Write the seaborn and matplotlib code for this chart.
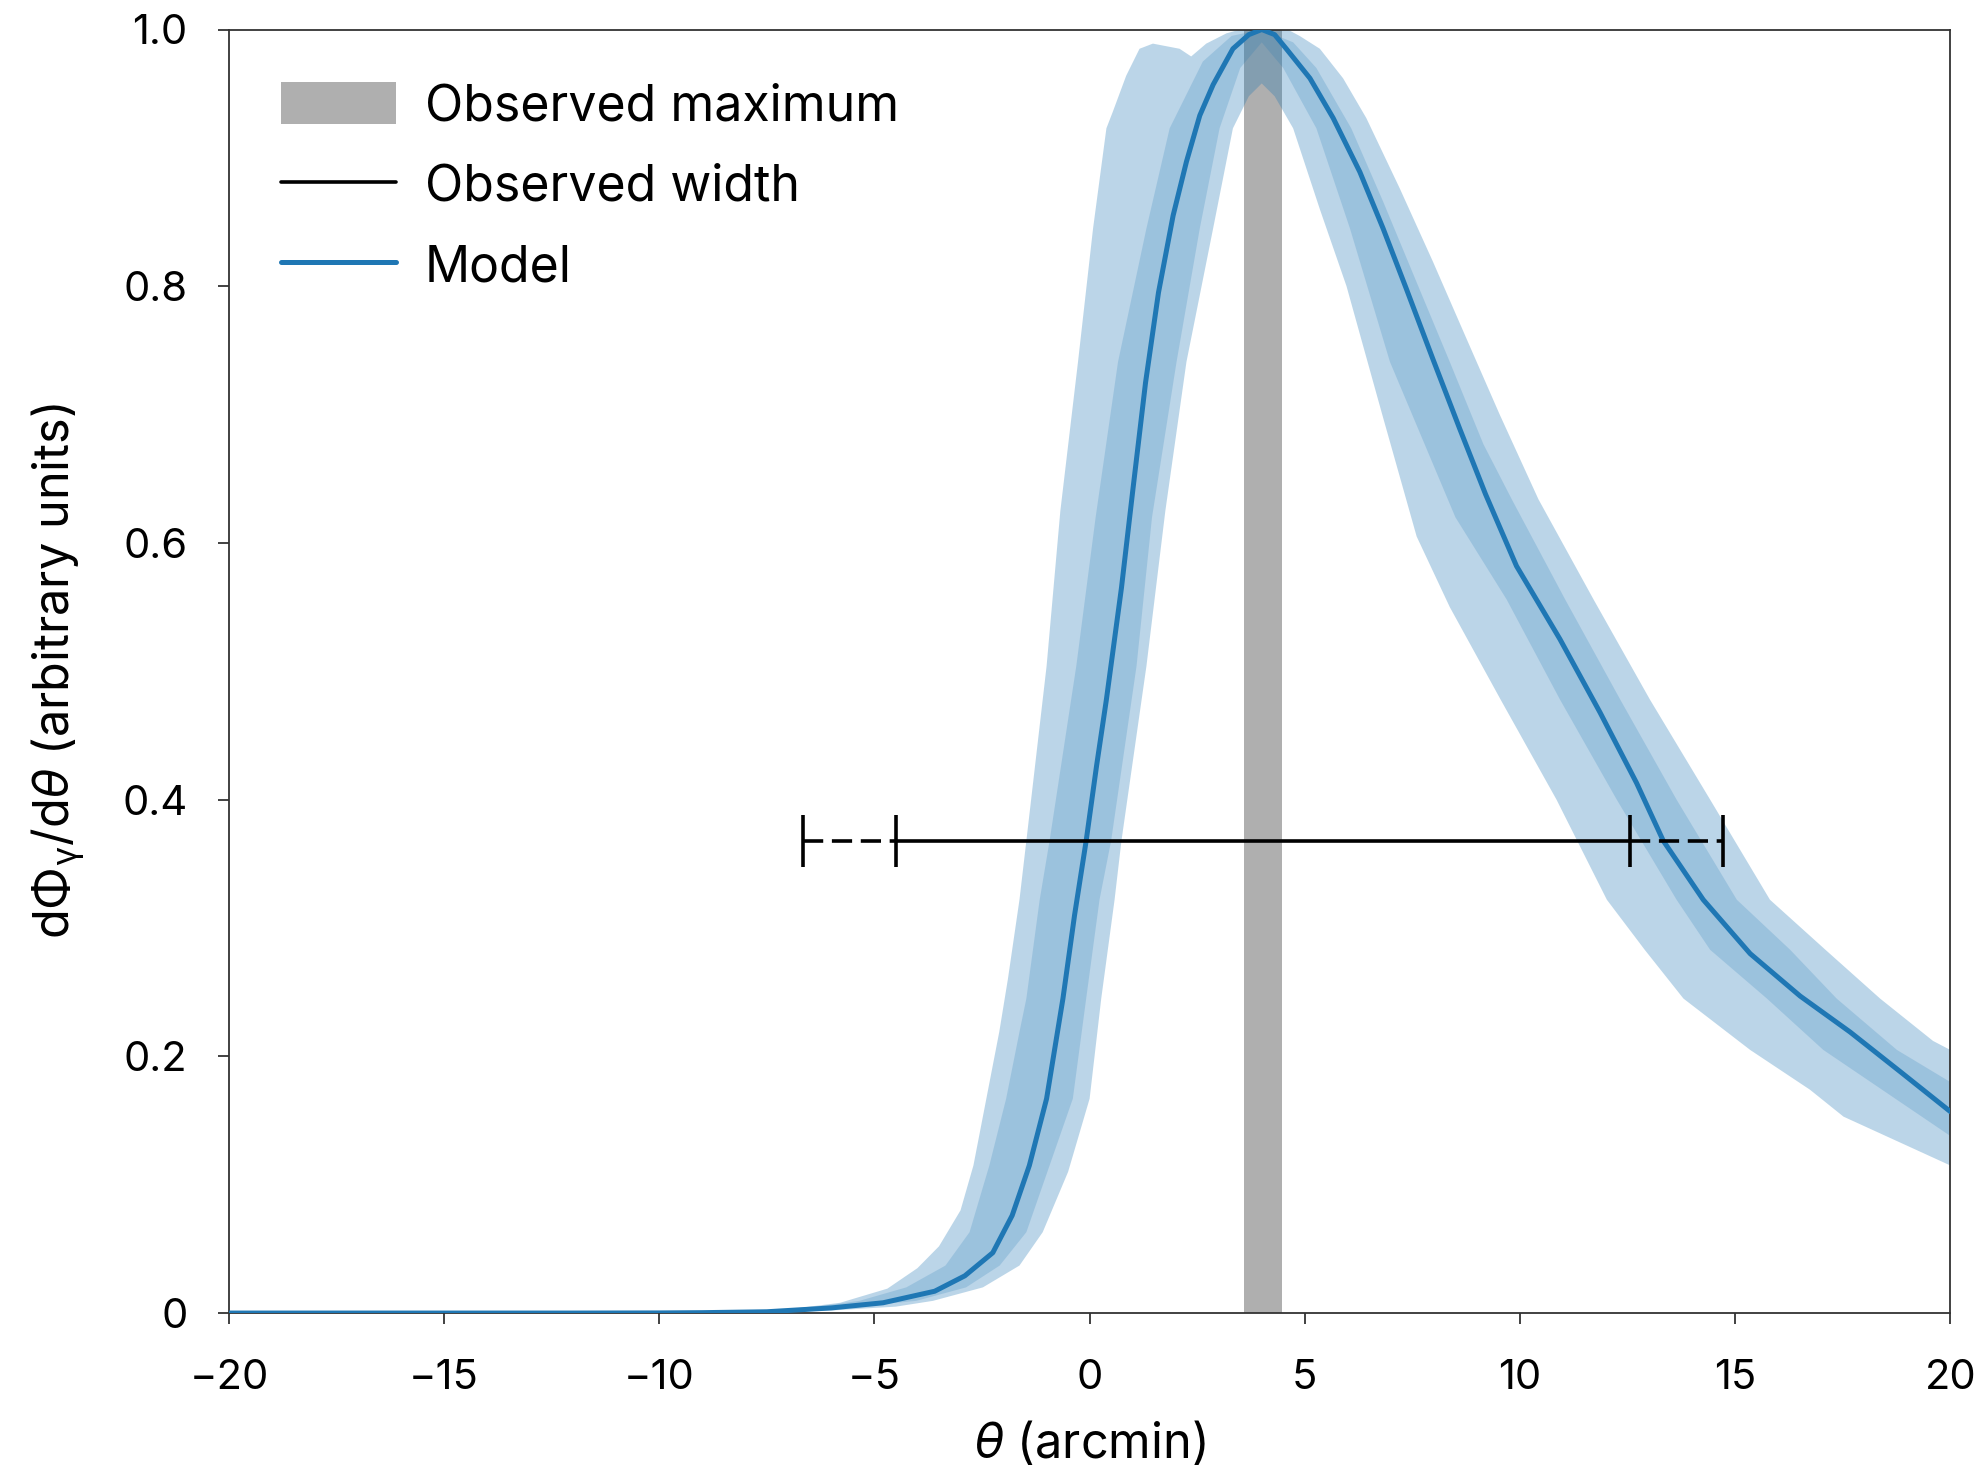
import matplotlib
matplotlib.use("Agg")
import matplotlib.pyplot as plt
import seaborn as sns
import pandas as pd
from matplotlib.patches import Patch
from matplotlib.lines import Line2D

# ---------------- data ----------------
theta_med = [-20, -12, -10, -9, -7.5, -6, -4.8, -3.6, -2.9, -2.25, -1.8, -1.4, -1.0, -0.62, -0.35,
             -0.08, 0.16, 0.39, 0.74, 1.0, 1.3, 1.6, 1.94, 2.25, 2.56, 2.87, 3.33, 3.7, 4.0, 4.3,
             4.57, 5.12, 5.66, 6.28, 6.82, 7.36, 7.98, 8.6, 9.2, 9.92, 10.93, 11.86, 12.71, 13.33,
             14.26, 15.35, 16.51, 17.67, 18.84, 20]
val_med = [0, 0, 0.0001, 0.0003, 0.001, 0.004, 0.008, 0.017, 0.029, 0.047, 0.076, 0.115, 0.167, 0.245, 0.31,
           0.368, 0.426, 0.478, 0.565, 0.64, 0.725, 0.795, 0.855, 0.897, 0.933, 0.957, 0.985, 0.996, 1.0, 0.996,
           0.985, 0.962, 0.931, 0.889, 0.845, 0.798, 0.743, 0.689, 0.638, 0.582, 0.525, 0.468, 0.413, 0.368,
           0.322, 0.280, 0.247, 0.219, 0.188, 0.157]

# outer (light) band: upper and lower edges
theta_out_hi = [-20, -10, -8.7, -7.1, -5.8, -4.7, -4.0, -3.5, -3.0, -2.7, -2.4, -2.1, -1.9, -1.63, -1.47,
                -1.0, -0.68, -0.27, 0.08, 0.39, 0.54, 0.85, 1.16, 1.47, 2.09, 2.36, 2.71, 3.18, 3.5, 4.6,
                4.88, 5.35, 5.89, 6.43, 7.21, 7.98, 8.76, 9.53, 10.43, 11.71, 13.02, 14.42, 15.81, 17.1,
                18.37, 19.6, 20]
val_out_hi = [0, 0.0001, 0.0003, 0.0025, 0.008, 0.019, 0.035, 0.052, 0.08, 0.115, 0.167, 0.219, 0.26, 0.322, 0.368,
              0.504, 0.625, 0.741, 0.845, 0.923, 0.936, 0.964, 0.985, 0.989, 0.985, 0.979, 0.989, 0.997, 1.0, 1.0,
              0.995, 0.985, 0.962, 0.931, 0.876, 0.819, 0.759, 0.700, 0.634, 0.556, 0.478, 0.400, 0.322, 0.283,
              0.245, 0.212, 0.205]
theta_out_lo = [-20, -8, -6, -4.5, -3.64, -2.48, -1.63, -1.09, -0.5, 0.0, 0.27, 0.58, 0.74, 1.32, 1.76,
                2.25, 2.87, 3.33, 3.7, 4.0, 4.3, 4.73, 5.35, 5.97, 6.8, 7.6, 8.37, 9.55, 10.85, 12.02,
                12.9, 13.8, 15.35, 16.74, 17.52, 20]
val_out_lo = [0, 0, 0.002, 0.005, 0.0095, 0.020, 0.037, 0.063, 0.11, 0.167, 0.245, 0.322, 0.368, 0.504, 0.625,
              0.741, 0.845, 0.923, 0.948, 0.958, 0.948, 0.923, 0.86, 0.80, 0.70, 0.605, 0.55, 0.478, 0.400, 0.322,
              0.283, 0.245, 0.205, 0.174, 0.153, 0.115]

# inner (medium) band: upper and lower edges
theta_in_hi = [-20, -9, -7, -5.35, -4.26, -3.35, -2.79, -2.33, -1.94, -1.63, -1.47, -1.16, -0.93, -0.31,
               0.14, 0.66, 1.32, 1.86, 2.63, 3.3, 4.0, 4.73, 5.27, 6.08, 6.82, 7.6, 8.37, 9.15, 9.81,
               11.05, 12.33, 13.64, 15.04, 16.28, 17.36, 18.76, 20]
val_in_hi = [0, 0.0002, 0.002, 0.0095, 0.020, 0.037, 0.063, 0.115, 0.167, 0.219, 0.245, 0.322, 0.368, 0.504,
             0.62, 0.741, 0.845, 0.923, 0.975, 0.995, 1.0, 0.99, 0.970, 0.923, 0.866, 0.803, 0.741, 0.677, 0.634,
             0.556, 0.478, 0.400, 0.322, 0.283, 0.245, 0.205, 0.180]
theta_in_lo = [-20, -8, -6, -4.03, -2.87, -2.09, -1.47, -0.39, -0.08, 0.23, 0.5, 1.09, 1.45, 2.02, 2.56,
               3.02, 3.5, 4.0, 4.5, 5.27, 6.05, 6.98, 8.5, 9.69, 10.93, 12.25, 13.64, 14.42, 15.74, 17.05, 20]
val_in_lo = [0, 0.0002, 0.003, 0.0095, 0.020, 0.037, 0.063, 0.167, 0.245, 0.322, 0.368, 0.504, 0.62, 0.741, 0.845,
             0.923, 0.97, 0.99, 0.97, 0.923, 0.845, 0.741, 0.62, 0.556, 0.478, 0.400, 0.322, 0.283, 0.245, 0.205, 0.138]

# observed maximum (band) and observed width (bar)
obs_max_range = [3.58, 4.48]
width_level = 0.368
width_solid = [-4.5, 12.56]
width_extended = [-6.67, 14.73]

x_ticks = [-20, -15, -10, -5, 0, 5, 10, 15, 20]
y_ticks = [0, 0.2, 0.4, 0.6, 0.8, 1.0]
y_tick_labels = ["0", "0.2", "0.4", "0.6", "0.8", "1.0"]
legend_labels = ["Observed maximum", "Observed width", "Model"]

# ---------------- style ----------------
sns.set_theme(style="ticks")
FONT = "Inter"
plt.rcParams["font.family"] = [FONT, "DejaVu Sans"]
plt.rcParams["mathtext.fontset"] = "custom"
plt.rcParams["mathtext.rm"] = FONT
plt.rcParams["mathtext.it"] = FONT + ":italic"
plt.rcParams["axes.unicode_minus"] = True
plt.rcParams["text.color"] = "black"
plt.rcParams["axes.labelcolor"] = "black"

BLUE = "#1f77b4"
GREY = "#afafaf"
SPINE = "#333333"

fig = plt.figure(figsize=(19.86, 14.75), dpi=100)
ax = fig.add_axes([0.1153, 0.1098, 0.8667, 0.8702])

# observed maximum band
ax.axvspan(obs_max_range[0], obs_max_range[1], color=GREY, lw=0, zorder=1)

# uncertainty bands
outer_x = theta_out_hi + theta_out_lo[::-1]
outer_y = val_out_hi + val_out_lo[::-1]
ax.fill(outer_x, outer_y, color=BLUE, alpha=0.3, lw=0, zorder=2)
inner_x = theta_in_hi + theta_in_lo[::-1]
inner_y = val_in_hi + val_in_lo[::-1]
ax.fill(inner_x, inner_y, color=BLUE, alpha=0.2, lw=0, zorder=2)

# model median
MODEL_LW = 3.6
df = pd.DataFrame({"theta": theta_med, "value": val_med})
sns.lineplot(data=df, x="theta", y="value", color=BLUE, lw=MODEL_LW, ax=ax, zorder=3,
             estimator=None, sort=False)

# observed width bar
LW = 2.6
ax.plot(width_solid, [width_level] * 2, color="black", lw=LW, zorder=4, solid_capstyle="butt")
ax.plot([width_extended[0], width_solid[0]], [width_level] * 2, color="black", lw=LW,
        ls=(0, (5.6, 2.4)), zorder=4)
ax.plot([width_solid[1], width_extended[1]], [width_level] * 2, color="black", lw=LW,
        ls=(0, (5.6, 2.4)), zorder=4)
caps = width_extended[:1] + width_solid + width_extended[1:]
ax.plot(caps, [width_level] * len(caps), ls="none", marker="|", ms=38, mew=LW,
        color="black", zorder=4)

# axes
ax.set_xlim(-20, 20)
ax.set_ylim(0, 1)
ax.set_xticks(x_ticks)
ax.set_yticks(y_ticks)
ax.set_yticklabels(y_tick_labels)
for s in ax.spines.values():
    s.set_color(SPINE)
    s.set_linewidth(1.3)
ax.tick_params(axis="both", direction="out", length=8, width=1.3, color=SPINE,
               labelsize=30, labelcolor="black")
ax.tick_params(axis="y", pad=22)
ax.tick_params(axis="x", pad=25)
ax.set_xlabel(r"$\mathit{\theta}$ (arcmin)", fontsize=35, labelpad=16)
ax.set_ylabel(r"d$\mathit{\Phi}_{\mathrm{\gamma}}$/d$\mathit{\theta}$ (arbitrary units)",
              fontsize=35, labelpad=25)

handles = [Patch(facecolor=GREY, edgecolor="none"),
           Line2D([], [], color="black", lw=LW),
           Line2D([], [], color=BLUE, lw=MODEL_LW)]
ax.legend(handles, legend_labels, loc="upper left", bbox_to_anchor=(0.03, 0.959),
          frameon=False, fontsize=36, handlelength=2.3, handleheight=0.9,
          handletextpad=0.58, labelspacing=0.65, borderpad=0, borderaxespad=0)

fig.savefig("out.png", dpi=100)
